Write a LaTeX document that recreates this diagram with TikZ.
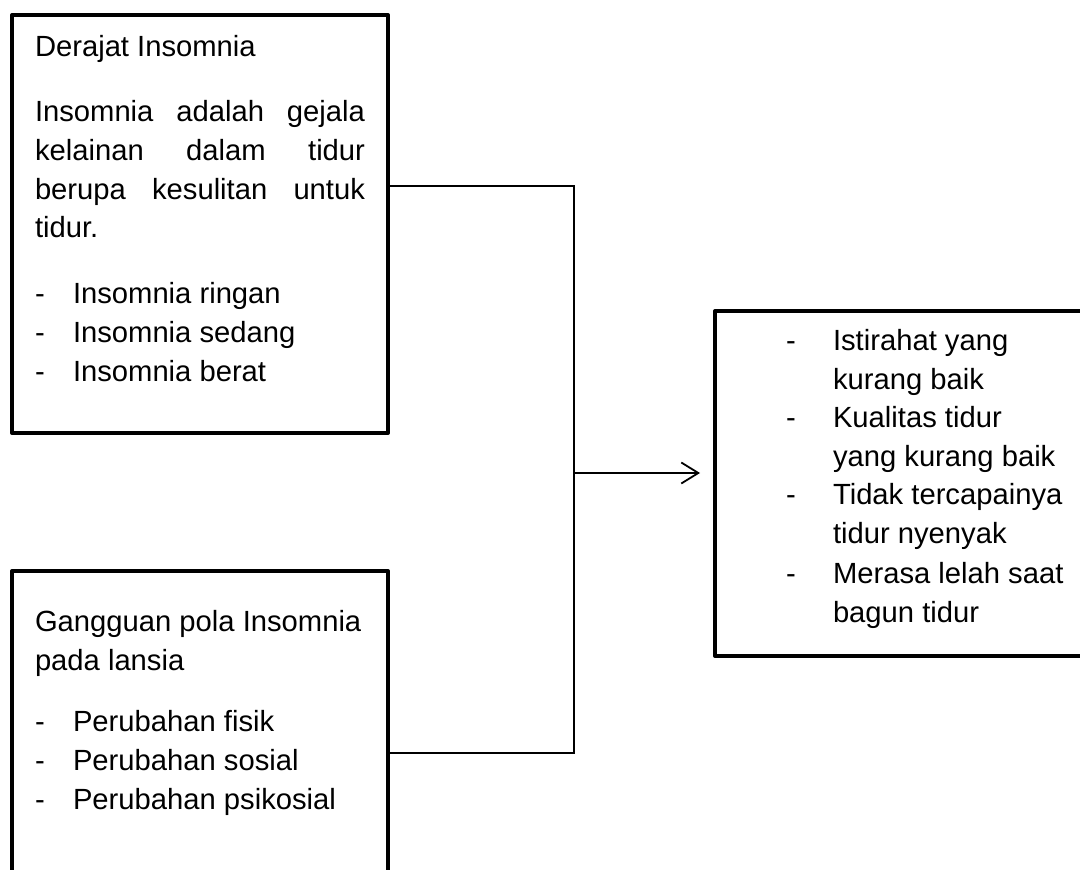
\documentclass[tikz,border=0pt]{standalone}
\usepackage{fontspec}
\setmainfont{Liberation Sans}
\usetikzlibrary{arrows.meta}
\begin{document}
\begin{tikzpicture}[x=0.5pt,y=-0.5pt,
  box/.style={draw=black, line width=2pt, line join=round, rectangle, inner sep=0pt, outer sep=0pt, anchor=north west},
  txt/.style={anchor=base west, inner sep=0pt, outer sep=0pt, font=\fontsize{14.6}{19.5}\selectfont},
  conn/.style={draw=black, line width=0.9pt},
]
\clip (0,0) rectangle (1080,870);
\fill[white] (0,0) rectangle (1080,870);

% boxes
\node[box, minimum width=188pt, minimum height=209pt] (b1) at (12,15) {};
\node[box, minimum width=188pt, minimum height=170pt] (b2) at (12,571) {};
\node[box, minimum width=195pt, minimum height=172.5pt] (b3) at (715,311) {};

% box 1 text
\node[txt] (t1) at (35,57) {Derajat Insomnia};
\node[txt] (p1) at (35,122) {\makebox[165pt][s]{Insomnia adalah gejala}};
\node[txt] (p2) at (35,161) {\makebox[165pt][s]{kelainan dalam tidur}};
\node[txt] (p3) at (35,200) {\makebox[165pt][s]{berupa kesulitan untuk}};
\node[txt] (p4) at (35,238) {tidur.};
\node[txt] (d11) at (35,304) {-};
\node[txt] (l11) at (73,304) {Insomnia ringan};
\node[txt] (d12) at (35,343) {-};
\node[txt] (l12) at (73,343) {Insomnia sedang};
\node[txt] (d13) at (35,382) {-};
\node[txt] (l13) at (73,382) {Insomnia berat};

% box 2 text
\node[txt] (t2a) at (35,631) {Gangguan pola Insomnia};
\node[txt] (t2b) at (35,670) {pada lansia};
\node[txt] (d21) at (35,731) {-};
\node[txt] (l21) at (73,731) {Perubahan fisik};
\node[txt] (d22) at (35,770) {-};
\node[txt] (l22) at (73,770) {Perubahan sosial};
\node[txt] (d23) at (35,809) {-};
\node[txt] (l23) at (73,809) {Perubahan psikosial};

% box 3 text
\node[txt] (d31) at (786,351) {-};
\node[txt] (l31) at (833,351) {Istirahat yang};
\node[txt] (l31b) at (833,390) {kurang baik};
\node[txt] (d32) at (786,428) {-};
\node[txt] (l32) at (833,428) {Kualitas tidur};
\node[txt] (l32b) at (833,467) {yang kurang baik};
\node[txt] (d33) at (786,505) {-};
\node[txt] (l33) at (833,505) {Tidak tercapainya};
\node[txt] (l33b) at (833,544) {tidur nyenyak};
\node[txt] (d34) at (786,583) {-};
\node[txt] (l34) at (833,583) {Merasa lelah saat};
\node[txt] (l34b) at (833,622) {bagun tidur};

% connectors
\coordinate (j1) at (574,186);
\coordinate (j2) at (574,753);
\coordinate (j3) at (574,473);
\draw[conn] (b1.east |- j1) -- (j1) -- (j2) -- (b2.east |- j2);
\draw[conn, -{Straight Barb[length=8.5pt, width=10.5pt, line width=0.9pt]}, shorten >=7.5pt] (j3) -- (b3.west |- j3);
\end{tikzpicture}
\end{document}
